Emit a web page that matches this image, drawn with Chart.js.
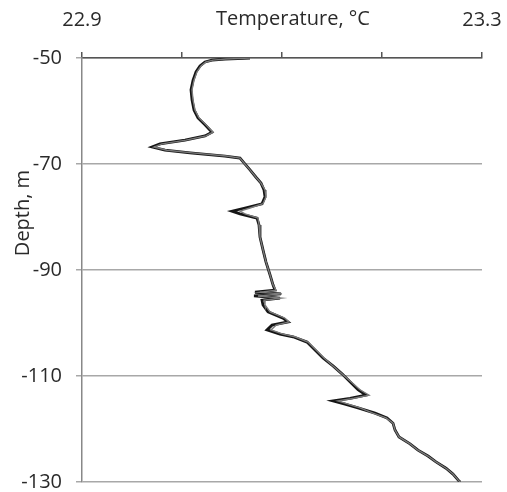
<!DOCTYPE html>
<html>
<head>
<meta charset="utf-8">
<script src="https://cdn.jsdelivr.net/npm/chart.js@4/dist/chart.umd.min.js"></script>
<style>
html,body{margin:0;padding:0;background:#fff;}
#c{display:block;}
</style>
</head>
<body>
<canvas id="c" width="507" height="492"></canvas>
<script>
const depths = [-50,-50.2,-50.4,-50.75,-51.5,-52.6,-54.2,-56,-57.9,-59.8,-61.3,-62.6,-64,-64.7,-65.5,-66.2,-66.8,-67.4,-67.9,-68.5,-68.9,-69.8,-71.1,-72.5,-73.6,-74.9,-76.2,-77.5,-78.3,-78.9,-79.4,-80.2,-81.5,-83.8,-86.2,-88.5,-90.9,-92.8,-93.8,-94.2,-94.5,-94.9,-95.3,-95.7,-96.6,-97.9,-99.1,-99.8,-100.4,-101.3,-102.1,-102.6,-103.6,-104.7,-106.6,-108.1,-109.6,-111.1,-112.6,-113.6,-114.2,-114.7,-115.3,-116,-117,-117.9,-118.9,-120.2,-121.5,-122.8,-124,-125.1,-126.2,-127.4,-128.5,-129.6,-130];
const tempBlack = [23.068,23.043,23.030,23.023,23.018,23.014,23.011,23.009,23.010,23.012,23.016,23.023,23.030,23.023,23.003,22.978,22.970,22.983,23.008,23.043,23.058,23.062,23.068,23.074,23.079,23.082,23.083,23.080,23.063,23.050,23.058,23.075,23.077,23.078,23.081,23.084,23.088,23.091,23.093,23.073,23.099,23.072,23.098,23.080,23.081,23.086,23.101,23.106,23.090,23.085,23.098,23.111,23.125,23.131,23.141,23.151,23.160,23.168,23.176,23.184,23.168,23.151,23.163,23.176,23.193,23.205,23.211,23.213,23.217,23.228,23.236,23.246,23.254,23.264,23.271,23.276,23.278];
const tempGray = [23.068,23.044,23.031,23.024,23.019,23.015,23.012,23.010,23.011,23.013,23.017,23.024,23.031,23.024,23.004,22.980,22.972,22.985,23.010,23.044,23.058,23.062,23.068,23.074,23.079,23.083,23.084,23.081,23.068,23.058,23.063,23.076,23.077,23.078,23.081,23.084,23.088,23.091,23.094,23.078,23.100,23.076,23.099,23.082,23.083,23.088,23.103,23.107,23.094,23.089,23.101,23.113,23.126,23.132,23.142,23.151,23.160,23.169,23.178,23.187,23.172,23.156,23.166,23.178,23.191,23.204,23.211,23.213,23.217,23.228,23.236,23.246,23.254,23.264,23.271,23.276,23.278];
const xTickLabels = ['22.9','23.3'];
const yTicks = [-50,-70,-90,-110,-130];
const xTitle = 'Temperature, °C';
const yTitle = 'Depth, m';

const FONT = "'Open Sans', sans-serif";
const txtColor = '#2a2a2a';

const toPts = (t) => t.map((v, i) => ({x: v, y: depths[i]}));

const titles = {
  id: 'titles',
  afterDraw(chart) {
    const ctx = chart.ctx;
    ctx.save();
    ctx.fillStyle = txtColor;
    ctx.font = "20px " + FONT;
    ctx.textAlign = 'center';
    ctx.textBaseline = 'middle';
    ctx.fillText(xTitle, 293, 19);
    ctx.translate(23, 213);
    ctx.rotate(-Math.PI / 2);
    ctx.fillText(yTitle, 0, 0);
    ctx.restore();
  }
};

new Chart(document.getElementById('c'), {
  type: 'scatter',
  data: {
    datasets: [
      {data: toPts(tempGray), showLine: true, borderColor: '#7a7a7a', borderWidth: 1.4, pointRadius: 0, tension: 0, order: 1},
      {data: toPts(tempBlack), showLine: true, borderColor: '#151515', borderWidth: 2.8, pointRadius: 0, tension: 0, order: 2}
    ]
  },
  options: {
    responsive: false,
    animation: false,
    layout: {padding: {left: 0, right: 25, top: 0, bottom: 10}},
    plugins: {legend: {display: false}, tooltip: {enabled: false}},
    scales: {
      x: {
        type: 'linear', position: 'top', min: 22.9, max: 23.3,
        afterFit(s) { s.height = 58; s.paddingLeft = 0; s.paddingRight = 0; },
        ticks: {
          stepSize: 0.1, padding: 20, color: txtColor, font: {family: FONT, size: 20},
          maxRotation: 0, autoSkip: false,
          callback(v) { const s = (Math.round(v * 10) / 10).toFixed(1); return xTickLabels.includes(s) ? s : ''; }
        },
        grid: {drawOnChartArea: false, drawTicks: true, tickLength: 6, color: '#555', lineWidth: 1.5},
        border: {display: true, color: '#555', width: 1.5}
      },
      y: {
        type: 'linear', min: -130, max: -50,
        afterFit(s) { s.width = 82; s.paddingTop = 0; s.paddingBottom = 0; },
        afterBuildTicks(s) { s.ticks = yTicks.map(v => ({value: v})); },
        ticks: {padding: 14, color: txtColor, font: {family: FONT, size: 20}},
        grid: {color: '#a8a8a8', lineWidth: 1.5, tickLength: 6},
        border: {display: true, color: '#888', width: 1.5}
      }
    }
  },
  plugins: [titles]
});
</script>
</body>
</html>
